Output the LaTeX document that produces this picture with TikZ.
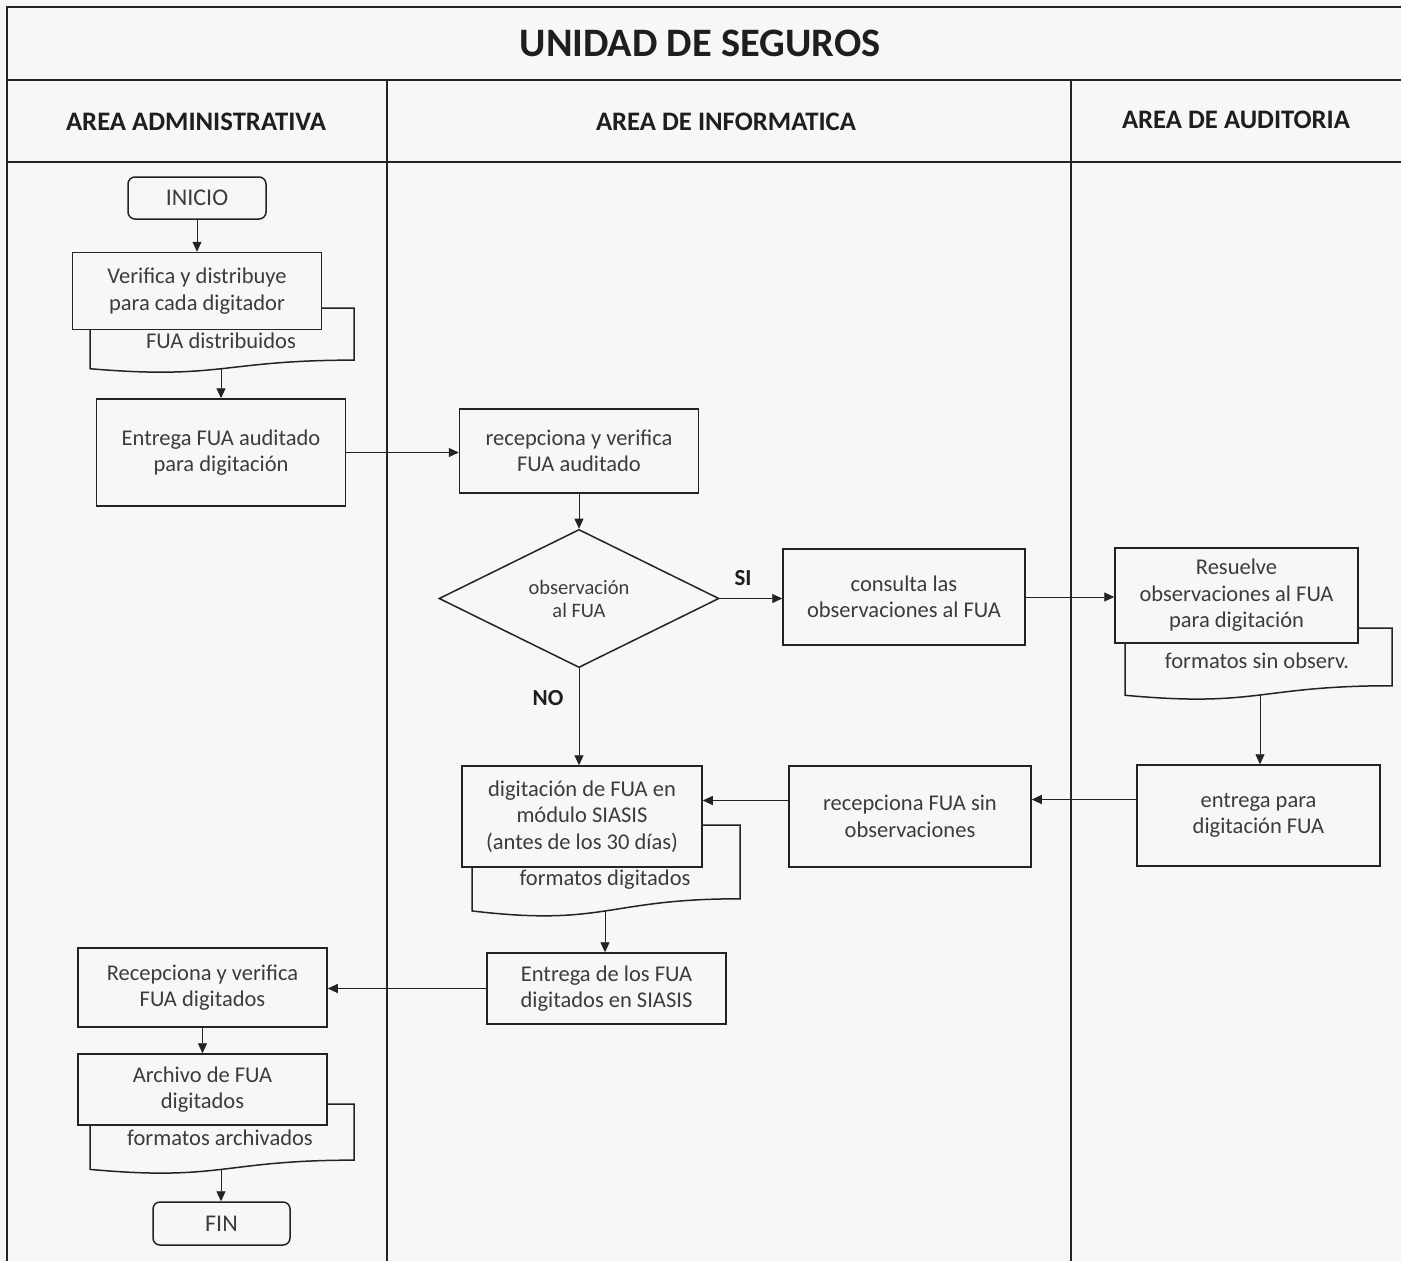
\documentclass[tikz,border=0pt]{standalone}
\usepackage{fontspec}
\setmainfont{Carlito}
\usetikzlibrary{arrows.meta,shapes.geometric}
\definecolor{bgc}{RGB}{247,247,245}
\definecolor{linec}{RGB}{35,35,35}
\definecolor{txt}{RGB}{60,60,60}
\definecolor{hdr}{RGB}{30,30,30}
\newcommand{\docshape}[4]{%
  \draw[docst] (#1,#3) -- (#2,#3) -- (#2,{#3+0.802*#4})
    .. controls ({(#1+#2)/2},{#3+0.802*#4}) and ({(#1+#2)/2},{#3+1.107*#4}) ..
    (#1,{#3+0.934*#4}) -- cycle;}
\begin{document}
\begin{tikzpicture}[x=1pt,y=-1pt,
  proc/.style={draw=linec, line width=1.5pt, fill=bgc, text=txt, align=center,
    font=\fontsize{22.5}{26.5}\selectfont, inner sep=0pt},
  term/.style={proc, rounded corners=7pt, font=\fontsize{24}{28}\selectfont},
  docst/.style={draw=linec, line width=1.5pt, fill=bgc},
  doctext/.style={text=txt, font=\fontsize{22.5}{26}\selectfont, inner sep=0pt},
  arr/.style={draw=linec, line width=0.9pt, -{Triangle[length=10pt,width=9pt]}},
  lane/.style={draw=linec, line width=1.6pt},
  lanehdr/.style={text=hdr, font=\bfseries\fontsize{26.7}{30}\selectfont},
  yesno/.style={text=hdr, font=\bfseries\fontsize{23}{26}\selectfont},
  dec/.style={diamond, draw=linec, line width=1.5pt, fill=bgc, text=txt, align=center,
    font=\fontsize{20.5}{23}\selectfont, inner sep=0pt}
]
\useasboundingbox (0,0) rectangle (1401,1261);
\fill[bgc] (0,0) rectangle (1401,1261);

% swimlane frame
\draw[lane] (7,1261) -- (7,7) -- (1401,7);
\draw[lane] (7,80) -- (1401,80);
\draw[lane] (7,162) -- (1401,162);
\draw[lane] (387,80) -- (387,1261);
\draw[lane] (1071,80) -- (1071,1261);

\node[text=hdr, font=\bfseries\fontsize{40.4}{44}\selectfont] (title) at (700,43) {UNIDAD DE SEGUROS};
\node[lanehdr] (h1) at (196,122) {AREA ADMINISTRATIVA};
\node[lanehdr] (h2) at (726,122) {AREA DE INFORMATICA};
\node[lanehdr] (h3) at (1236,120) {AREA DE AUDITORIA};

% documents (behind the process boxes)
\docshape{90}{354}{308}{65}
\coordinate (d1b) at (221,368.5);
\docshape{1125}{1392}{628}{72}
\coordinate (d2b) at (1260,695);
\docshape{472}{740}{825}{92}
\coordinate (d3b) at (605,911);
\docshape{90}{354}{1104}{70}
\coordinate (d4b) at (221,1169);

% nodes
\node[term, minimum width=138pt, minimum height=42pt] (inicio) at (197,198) {INICIO};
\node[proc, minimum width=249pt, minimum height=77pt] (verif) at (197,291) {Verifica y distribuye\\para cada digitador};
\node[doctext] (t1) at (221,341) {FUA distribuidos};
\node[proc, minimum width=249pt, minimum height=107pt] (entrega) at (221,452.5) {Entrega FUA auditado\\para digitación};
\node[proc, minimum width=239pt, minimum height=84pt] (recep1) at (579,451) {recepciona y verifica\\FUA auditado};
\node[dec, minimum width=280pt, minimum height=137pt] (dec) at (579,598.5) {observación\\al FUA};
\node[proc, minimum width=242pt, minimum height=96pt] (consulta) at (904,597) {consulta las\\observaciones al FUA};
\node[proc, minimum width=243pt, minimum height=95pt] (resuelve) at (1236.5,595.5) {Resuelve\\observaciones al FUA\\para digitación};
\node[doctext] (t2) at (1257,661) {formatos sin observ.};
\node[proc, minimum width=243pt, minimum height=101pt] (entrega2) at (1258.5,815.5) {entrega para\\digitación FUA};
\node[proc, minimum width=242pt, minimum height=101pt] (recep2) at (910,816.5) {recepciona FUA sin\\observaciones};
\node[proc, minimum width=240pt, minimum height=101pt] (digit) at (582,816.5) {digitación de FUA en\\módulo SIASIS\\(antes de los 30 días)};
\node[doctext] (t3) at (605,880) {formatos digitados};
\node[proc, minimum width=239pt, minimum height=71pt] (siasis) at (606.5,988.5) {Entrega de los FUA\\digitados en SIASIS};
\node[proc, minimum width=249pt, minimum height=79pt] (recep3) at (202.5,987.5) {Recepciona y verifica\\FUA digitados};
\node[proc, minimum width=249pt, minimum height=71pt] (archivo) at (202.5,1089.5) {Archivo de FUA\\digitados};
\node[doctext] (t4) at (220,1138) {formatos archivados};
\node[term, minimum width=137pt, minimum height=43pt] (fin) at (221.5,1223.5) {FIN};

% labels
\node[yesno] (si) at (743,578) {SI};
\node[yesno] (no) at (548,698) {NO};

% connectors
\draw[arr] (inicio.south) -- (inicio.south |- verif.north);
\draw[arr] (d1b) -- (d1b |- entrega.north);
\draw[arr] (entrega.east) -- (entrega.east -| recep1.west);
\draw[arr] (recep1.south) -- (recep1.south |- dec.north);
\draw[arr] (dec.east) -- (dec.east -| consulta.west);
\draw[arr] (consulta.east) -- (consulta.east -| resuelve.west);
\draw[arr] (d2b) -- (d2b |- entrega2.north);
\draw[arr] ([yshift=16pt]entrega2.west) -- ([yshift=16pt]entrega2.west -| recep2.east);
\draw[arr] ([yshift=16pt]recep2.west) -- ([yshift=16pt]recep2.west -| digit.east);
\draw[arr] (dec.south) -- (dec.south |- digit.north);
\draw[arr] (d3b) -- (d3b |- siasis.north);
\draw[arr] (siasis.west) -- (siasis.west -| recep3.east);
\draw[arr] (recep3.south) -- (recep3.south |- archivo.north);
\draw[arr] (d4b) -- (d4b |- fin.north);
\end{tikzpicture}
\end{document}
